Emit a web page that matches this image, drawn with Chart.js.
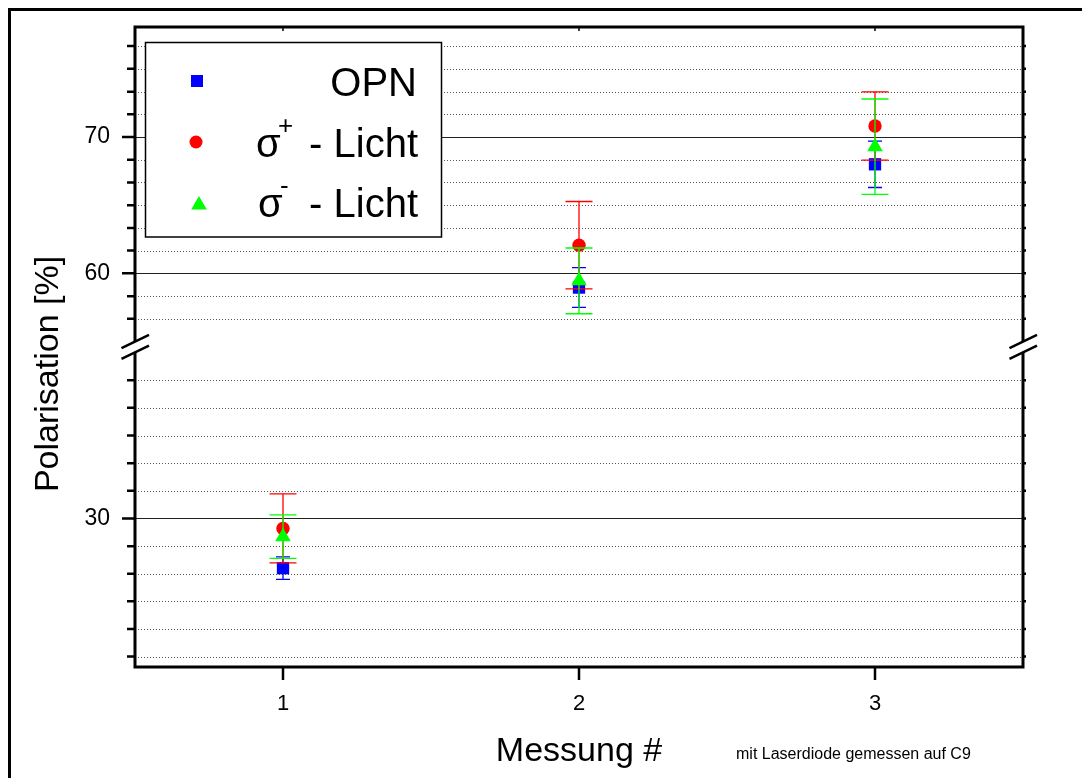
<!DOCTYPE html>
<html><head><meta charset="utf-8">
<script src="https://cdn.jsdelivr.net/npm/chart.js@4.4.1/dist/chart.umd.min.js"></script>
<style>html,body{margin:0;padding:0;background:#fff}#wrap{width:1082px;height:778px;position:relative}</style>
</head><body><div id="wrap"><canvas id="c" width="1082" height="778"></canvas></div>
<script>
// ---- data ----
const measurements = [1, 2, 3];
const xTickLabels = ['1', '2', '3'];
const seriesNames = ['OPN', 'σ+ - Licht', 'σ- - Licht'];
const opnValues = [27.0, 58.96, 68.0];
const opnErrors = [0.68, 1.46, 1.7];
const sigmaPlusValues = [29.4, 62.07, 70.81];
const sigmaPlusErrors = [2.08, 3.2, 2.5];
const sigmaMinusValues = [28.9, 59.45, 69.29];
const sigmaMinusErrors = [1.31, 2.41, 3.5];
const upperTicks = [56.67, 58.33, 60, 61.67, 63.33, 65, 66.67, 68.33, 70, 71.67, 73.33, 75, 76.67];
const lowerTicks = [21.67, 23.33, 25, 26.67, 28.33, 30, 31.67, 33.33, 35, 36.67, 38.33];
const majorTickValues = [30, 60, 70];
const upperRange = [54.6, 78.07];
const lowerRange = [21.04, 40.34];
const xTitle = 'Messung #';
const yTitle = 'Polarisation [%]';
const noteText = 'mit Laserdiode gemessen auf C9';

// ---- styles ----
const FONT = "'Liberation Sans', Arial, sans-serif";
const series = [
  {name: seriesNames[2], values: sigmaMinusValues, errors: sigmaMinusErrors, color: '#00FF00', style: 'triangle', radius: 9, cap: 13.5},
  {name: seriesNames[1], values: sigmaPlusValues, errors: sigmaPlusErrors, color: '#FF0000', style: 'circle', radius: 6.7, cap: 13.5},
  {name: seriesNames[0], values: opnValues, errors: opnErrors, color: '#0000FF', style: 'rect', radius: 8.7, cap: 7}
];

const datasets = [];
series.forEach(s => {
  const low = [], lowErr = [], up = [], upErr = [];
  measurements.forEach((m, i) => {
    if (s.values[i] < lowerRange[1]) { low.push({x: m, y: s.values[i]}); lowErr.push(s.errors[i]); }
    else { up.push({x: m, y: s.values[i]}); upErr.push(s.errors[i]); }
  });
  const common = {label: s.name, backgroundColor: s.color, borderColor: s.color, pointStyle: s.style,
    pointRadius: s.radius, pointBorderWidth: 0, showLine: false, errColor: s.color, capHalf: s.cap};
  datasets.push(Object.assign({}, common, {data: low, errData: lowErr, yAxisID: 'yLow'}));
  datasets.push(Object.assign({}, common, {data: up, errData: upErr, yAxisID: 'yTop'}));
});

const isMajor = v => majorTickValues.some(m => Math.abs(m - v) < 1e-6);

const errorBarPlugin = {
  id: 'errorBars',
  beforeDatasetDraw(chart, args) {
    const ds = chart.data.datasets[args.index];
    const meta = args.meta;
    const ys = chart.scales[ds.yAxisID];
    const ctx = chart.ctx;
    ctx.save();
    ctx.strokeStyle = ds.errColor;
    ctx.lineWidth = 1.3;
    meta.data.forEach((pt, i) => {
      const v = ds.data[i].y, e = ds.errData[i];
      const x = pt.x;
      const y1 = ys.getPixelForValue(v + e), y2 = ys.getPixelForValue(v - e);
      ctx.beginPath();
      ctx.moveTo(x, y1); ctx.lineTo(x, y2);
      ctx.moveTo(x - ds.capHalf, y1); ctx.lineTo(x + ds.capHalf, y1);
      ctx.moveTo(x - ds.capHalf, y2); ctx.lineTo(x + ds.capHalf, y2);
      ctx.stroke();
    });
    ctx.restore();
  }
};

const gridPlugin = {
  id: 'customGrid',
  beforeDatasetsDraw(chart) {
    const ctx = chart.ctx, a = chart.chartArea;
    ctx.save();
    ['yTop', 'yLow'].forEach(id => {
      const sc = chart.scales[id];
      sc.ticks.forEach(t => {
        const y = Math.round(sc.getPixelForValue(t.value)) + 0.5;
        ctx.beginPath();
        if (isMajor(t.value)) { ctx.setLineDash([]); ctx.strokeStyle = '#222'; }
        else { ctx.setLineDash([1, 2]); ctx.strokeStyle = '#555'; }
        ctx.lineWidth = 1;
        ctx.moveTo(a.left, y); ctx.lineTo(a.right, y);
        ctx.stroke();
      });
    });
    ctx.restore();
  },
  afterDraw(chart) {
    const ctx = chart.ctx, a = chart.chartArea;
    ctx.save();
    // outer frame
    ctx.strokeStyle = '#000'; ctx.lineWidth = 3;
    ctx.strokeRect(9.5, 9.5, 1090, 790);
    // ticks
    ctx.lineWidth = 2.5;
    ['yTop', 'yLow'].forEach(id => {
      const sc = chart.scales[id];
      sc.ticks.forEach(t => {
        const y = sc.getPixelForValue(t.value);
        const len = isMajor(t.value) ? 13 : 8;
        ctx.beginPath();
        ctx.moveTo(a.left - len, y); ctx.lineTo(a.left, y);
        ctx.moveTo(a.right, y); ctx.lineTo(a.right + 3, y);
        ctx.stroke();
      });
    });
    const xs = chart.scales.x;
    xs.ticks.forEach(t => {
      const x = xs.getPixelForValue(t.value);
      ctx.beginPath();
      ctx.moveTo(x, a.bottom); ctx.lineTo(x, a.bottom + 13);
      ctx.stroke();
      ctx.beginPath();
      ctx.lineWidth = 1.5;
      ctx.moveTo(x, a.top); ctx.lineTo(x, a.top + 4);
      ctx.stroke();
      ctx.lineWidth = 2.5;
    });
    // plot frame
    ctx.lineWidth = 3;
    ctx.strokeRect(a.left, a.top, a.right - a.left, a.bottom - a.top);
    // axis breaks
    const yb = chart.scales.yTop.bottom;
    [a.left, a.right].forEach(x => {
      ctx.fillStyle = '#fff';
      ctx.beginPath();
      ctx.moveTo(x - 4, yb - 5.4 + 4 * 0.48);
      ctx.lineTo(x + 4, yb - 5.4 - 4 * 0.48);
      ctx.lineTo(x + 4, yb + 5.4 - 4 * 0.48);
      ctx.lineTo(x - 4, yb + 5.4 + 4 * 0.48);
      ctx.closePath();
      ctx.fill();
      ctx.strokeStyle = '#000'; ctx.lineWidth = 2.5;
      ctx.beginPath();
      ctx.moveTo(x - 13.5, yb - 5.4 + 13.5 * 0.48); ctx.lineTo(x + 14, yb - 5.4 - 14 * 0.48);
      ctx.moveTo(x - 13.5, yb + 5.4 + 13.5 * 0.48); ctx.lineTo(x + 14, yb + 5.4 - 14 * 0.48);
      ctx.stroke();
    });
    // y title
    ctx.fillStyle = '#000';
    ctx.font = '34px ' + FONT;
    ctx.textAlign = 'center'; ctx.textBaseline = 'middle';
    ctx.save();
    ctx.translate(49, 374);
    ctx.rotate(-Math.PI / 2);
    ctx.fillText(yTitle, 0, 0);
    ctx.restore();
    // note
    ctx.font = '16px ' + FONT;
    ctx.textAlign = 'left'; ctx.textBaseline = 'alphabetic';
    ctx.fillText(noteText, 736, 759);
    // legend
    const L = {x: 145.5, y: 42.5, w: 296, h: 194.5};
    ctx.fillStyle = '#fff';
    ctx.fillRect(L.x, L.y, L.w, L.h);
    ctx.strokeStyle = '#000'; ctx.lineWidth = 1.5;
    ctx.strokeRect(L.x, L.y, L.w, L.h);
    const legendRows = [
      {s: series[2], mx: 197, my: 81, base: 96},
      {s: series[1], mx: 196, my: 142, base: 157},
      {s: series[0], mx: 199, my: 204, base: 217}
    ];
    legendRows.forEach((r, i) => {
      ctx.fillStyle = r.s.color;
      ctx.beginPath();
      if (r.s.style === 'rect') { ctx.rect(r.mx - 6, r.my - 6, 12, 12); }
      else if (r.s.style === 'circle') { ctx.arc(r.mx, r.my, 6.5, 0, Math.PI * 2); }
      else { ctx.moveTo(r.mx, r.my - 8); ctx.lineTo(r.mx + 7.8, r.my + 5.5); ctx.lineTo(r.mx - 7.8, r.my + 5.5); ctx.closePath(); }
      ctx.fill();
      ctx.fillStyle = '#000';
      const name = r.s.name;
      if (name.startsWith('σ')) {
        ctx.font = '40px ' + FONT; ctx.textAlign = 'left';
        ctx.fillText('σ', i === 1 ? 256 : 258, r.base);
        ctx.font = '26px ' + FONT;
        ctx.fillText(name.charAt(1), i === 1 ? 278 : 280, r.base - 23);
        ctx.font = '40px ' + FONT; ctx.textAlign = 'right';
        ctx.fillText(name.slice(3), 418, r.base);
      } else {
        ctx.font = '40px ' + FONT; ctx.textAlign = 'right';
        ctx.fillText(name, 417, r.base);
      }
    });
    ctx.restore();
  }
};

const yCommon = {
  type: 'linear', position: 'left', stack: 'y', stackWeight: 1, offset: false,
  afterFit: s => { s.width = 135; },
  ticks: {
    autoSkip: false, padding: 12, color: '#000', font: {family: FONT, size: 23},
    callback: v => isMajor(v) ? String(Math.round(v)) : ''
  },
  grid: {color: 'rgba(0,0,0,0)', tickColor: 'rgba(0,0,0,0)', tickLength: 13, drawOnChartArea: false},
  border: {display: false}
};

new Chart(document.getElementById('c'), {
  type: 'scatter',
  data: {datasets},
  plugins: [errorBarPlugin, gridPlugin],
  options: {
    responsive: false, animation: false, devicePixelRatio: 1, events: [],
    layout: {padding: {top: 27, right: 59, left: 0, bottom: 0}},
    plugins: {legend: {display: false}, tooltip: {enabled: false}},
    scales: {
      x: {
        type: 'linear', position: 'bottom', min: 0.5, max: 3.5,
        afterBuildTicks: s => { s.ticks = measurements.map(v => ({value: v})); },
        afterFit: s => { s.height = 111; },
        ticks: {autoSkip: false, padding: 11, color: '#000', font: {family: FONT, size: 22},
          callback: v => xTickLabels[measurements.indexOf(v)] ?? ''},
        grid: {color: 'rgba(0,0,0,0)', tickColor: 'rgba(0,0,0,0)', tickLength: 13, drawOnChartArea: false},
        border: {display: false},
        title: {display: true, text: xTitle, color: '#000', font: {family: FONT, size: 34}, padding: {top: 0, bottom: 6}}
      },
      yLow: Object.assign({}, yCommon, {
        min: lowerRange[0], max: lowerRange[1],
        afterBuildTicks: s => { s.ticks = lowerTicks.map(v => ({value: v})); }
      }),
      yTop: Object.assign({}, yCommon, {
        min: upperRange[0], max: upperRange[1],
        afterBuildTicks: s => { s.ticks = upperTicks.map(v => ({value: v})); }
      })
    }
  }
});
</script>
</body></html>
